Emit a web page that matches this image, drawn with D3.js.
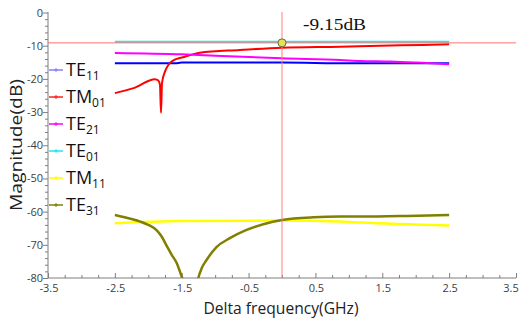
<!DOCTYPE html>
<html>
<head>
<meta charset="utf-8">
<script src="https://cdn.jsdelivr.net/npm/d3@7"></script>
<style>
  body { margin: 0; background: #fff; }
  svg { display: block; font-family: "Open Sans", sans-serif; }
</style>
</head>
<body>
<div class="chart"></div>
<script>
const width = 522
const height = 321

// axis ticks
const xTicks = [-3.5, -2.5, -1.5, -0.5, 0.5, 1.5, 2.5, 3.5]
const yTicks = [0, -10, -20, -30, -40, -50, -60, -70, -80]

// traces: [delta GHz, dB]
const te11 = [[-2.5, -15.3], [-1.6, -15.3], [-1.5, -15.1], [0, -15.1], [1.0, -15.3], [2.5, -15.3]]
const tm01 = [[-2.5, -24.3], [-2.22, -22.8], [-1.9, -20.1], [-1.85, -20.5], [-1.825, -21.8], [-1.81, -30.2],
    [-1.795, -21.3], [-1.75, -17.8], [-1.7, -15.8], [-1.63, -14.5], [-1.48, -13.5], [-1.23, -12.1],
    [-0.63, -11.3], [0, -10.6], [0.87, -10.3], [1.47, -10.0], [2.1, -9.8], [2.5, -9.6]]
const te21 = [[-2.5, -12.2], [-1.5, -12.6], [-1.0, -13.0], [0, -13.8], [0.87, -14.3], [1.17, -14.6], [1.62, -14.8], [2.5, -15.6]]
const te01 = [[-2.5, -8.8], [0, -8.8], [2.5, -8.8]]
const tm11 = [[-2.5, -63.5], [-1.52, -62.8], [-0.03, -62.7], [0.87, -63.0], [1.17, -63.3], [2.5, -64.2]]
const te31 = [[-2.5, -61.0], [-2.25, -62.2], [-2.12, -63.0], [-2.0, -64.0], [-1.87, -65.7], [-1.8, -67.5],
    [-1.72, -70.5], [-1.65, -73.0], [-1.575, -75.5], [-1.526, -78.1], [-1.485, -80.5], [-1.45, -83],
    [-1.37, -92], [-1.3, -85], [-1.252, -80], [-1.2, -77], [-1.126, -74.5], [-0.98, -70.7], [-0.78, -68.0],
    [-0.53, -65.5], [-0.28, -63.8], [0, -62.5], [0.47, -61.7], [0.87, -61.5], [1.17, -61.5], [1.87, -61.3], [2.5, -61.0]]

const seriesNames = ["TE", "TM", "TE", "TE", "TM", "TE"]
const seriesSubs = ["11", "01", "21", "01", "11", "31"]
const seriesColors = ["#0000ff", "#ff0000", "#ff00ff", "#22e8e8", "#ffff00", "#808000"]
const legendColors = ["#8080ff", "#ff2020", "#ff00ff", "#22e8e8", "#ffff00", "#808000"]
const seriesData = [te11, tm01, te21, te01, tm11, te31]

// marker
const markerX = 0
const markerY = -9.15
const markerLabel = "-9.15dB"

const svg = d3.select(".chart").append("svg")
    .attr("width", width)
    .attr("height", height)

const xScale = d3.scaleLinear().domain([-3.5, 3.5]).range([48, 516])
const yScale = d3.scaleLinear().domain([-80, 0]).range([278, 12.5])

svg.append("defs").append("clipPath").attr("id", "plot")
    .append("rect")
    .attr("x", 48).attr("y", 12)
    .attr("width", 470).attr("height", 266)

// axes
const axisColor = "#7f7f7f"
const yAxis = svg.append("g").attr("transform", "translate(48,0)")
yAxis.call(d3.axisLeft(yScale).tickValues(d3.range(-80, 1, 2)).tickSize(3).tickFormat(""))
yAxis.call(g => g.selectAll(".tick").filter(d => d % 10 === 0).select("line").attr("x2", -5))
yAxis.selectAll("path, line").attr("stroke", axisColor)
yAxis.select(".domain").attr("d", "M0," + yScale(-80) + "V12")

svg.append("g").selectAll("text")
    .data(yTicks)
    .join("text")
    .attr("x", 43)
    .attr("y", d => yScale(d) + 4)
    .attr("text-anchor", "end")
    .attr("font-size", 11)
    .attr("fill", "#404040")
    .text(d => d)

const xAxis = svg.append("g").attr("transform", "translate(0,278)")
xAxis.call(d3.axisTop(xScale).tickValues(d3.range(-3.5, 3.51, 0.25)).tickSize(3).tickFormat(""))
xAxis.call(g => g.selectAll(".tick").filter(d => Math.abs((d + 3.5) % 1) < 1e-6).select("line").attr("y2", -5))
xAxis.selectAll("path, line").attr("stroke", axisColor)
xAxis.select(".domain").attr("d", "M48,0H516")

// last label sits at the window edge, keep it just inside
svg.append("g").selectAll("text")
    .data(xTicks)
    .join("text")
    .attr("x", d => Math.min(xScale(d) + 1, 511))
    .attr("y", 292)
    .attr("text-anchor", "middle")
    .attr("font-size", 11)
    .attr("fill", "#404040")
    .text(d => d)

svg.append("text")
    .attr("x", 281).attr("y", 314)
    .attr("text-anchor", "middle")
    .attr("font-size", 17)
    .attr("fill", "#222")
    .attr("textLength", 155)
    .attr("lengthAdjust", "spacingAndGlyphs")
    .text("Delta frequency(GHz)")

svg.append("text")
    .attr("transform", "translate(22,145) rotate(-90)")
    .attr("text-anchor", "middle")
    .attr("font-size", 17)
    .attr("fill", "#222")
    .attr("textLength", 132)
    .attr("lengthAdjust", "spacingAndGlyphs")
    .text("Magnitude(dB)")

// traces
const line = d3.line().x(d => xScale(d[0])).y(d => yScale(d[1])).curve(d3.curveMonotoneX)
const plot = svg.append("g").attr("clip-path", "url(#plot)")
seriesData.forEach((data, i) => {
    plot.append("path")
        .datum(data)
        .attr("fill", "none")
        .attr("stroke", seriesColors[i])
        .attr("stroke-width", i >= 4 ? 2.5 : 2)
        .attr("stroke-linejoin", "round")
        .attr("d", line)
})

// cursor lines
plot.append("line")
    .attr("x1", 48).attr("x2", 516)
    .attr("y1", yScale(markerY)).attr("y2", yScale(markerY))
    .attr("stroke", "#ff7070").attr("stroke-width", 1)
plot.append("line")
    .attr("x1", xScale(markerX)).attr("x2", xScale(markerX))
    .attr("y1", 12).attr("y2", 278)
    .attr("stroke", "#ff8080").attr("stroke-width", 1)

svg.append("circle")
    .attr("cx", xScale(markerX)).attr("cy", yScale(markerY))
    .attr("r", 4)
    .attr("fill", "#e8e05a")
    .attr("stroke", "#6b6b3a")
    .attr("stroke-width", 1)

svg.append("text")
    .attr("x", 303).attr("y", 30)
    .attr("font-family", "'Liberation Serif', serif")
    .attr("font-size", 17)
    .attr("fill", "#111")
    .attr("textLength", 63)
    .attr("lengthAdjust", "spacingAndGlyphs")
    .text(markerLabel)

// legend
const legend = svg.append("g")
seriesNames.forEach((name, i) => {
    const cy = 70 + i * 27
    legend.append("line")
        .attr("x1", 49).attr("x2", 63)
        .attr("y1", cy).attr("y2", cy)
        .attr("stroke", legendColors[i]).attr("stroke-width", 1.5)
    legend.append("path")
        .attr("d", "M" + 54 + "," + cy + "h4M56," + (cy - 2) + "v4")
        .attr("stroke", legendColors[i]).attr("stroke-width", 1)
    const t = legend.append("text")
        .attr("x", 66).attr("y", cy + 6)
        .attr("font-size", 18)
        .attr("fill", "#111")
    t.append("tspan").text(name)
    t.append("tspan").attr("dy", 4).attr("font-size", 12).text(seriesSubs[i])
})
</script>
</body>
</html>
